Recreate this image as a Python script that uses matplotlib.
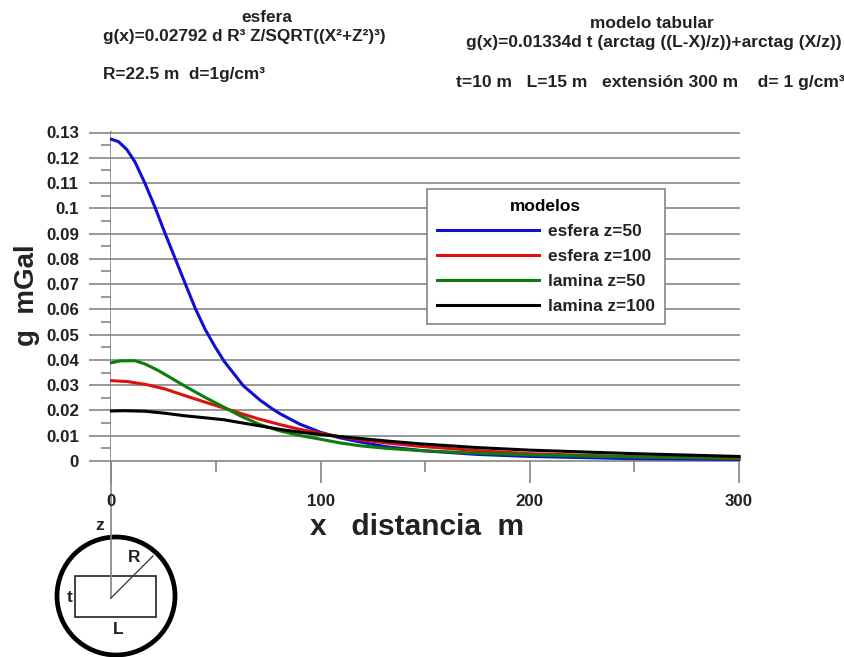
import matplotlib
matplotlib.use("Agg")
import matplotlib.pyplot as plt
from matplotlib.patches import Circle, Rectangle

plt.rcParams['font.family'] = ['Liberation Sans', 'DejaVu Sans']
plt.rcParams['font.weight'] = 'bold'

W, H = 845, 657
GREY = '#858585'
INK = '#222222'

# Values
esfera50_x = [0, 3.3, 7.3, 11.2, 16, 20.8, 25.6, 30.4, 35.2, 40, 44.7, 49.5, 54, 63, 71, 76.6, 80.6, 90, 99.8, 109, 119, 131.7, 150, 175, 200, 250, 300]
esfera50_y = [0.1273, 0.1264, 0.1233, 0.1184, 0.1099, 0.1004, 0.0901, 0.0802, 0.0703, 0.0605, 0.0522, 0.0452, 0.0393, 0.0298, 0.0241, 0.0208, 0.0187, 0.0146, 0.0114, 0.0092, 0.0075, 0.0056, 0.004, 0.0026, 0.0018, 0.0009, 0.0006]
esfera100_x = [0, 8, 17.5, 25.6, 35, 44.7, 54, 61.5, 71, 80.6, 90, 100, 109, 119, 131.7, 147.6, 175, 200, 250, 300]
esfera100_y = [0.0318, 0.0314, 0.0301, 0.0285, 0.0259, 0.0233, 0.0209, 0.0189, 0.0165, 0.0144, 0.0125, 0.011, 0.0096, 0.0084, 0.0071, 0.0058, 0.0041, 0.0029, 0.0017, 0.001]
lamina50_x = [0, 4, 11.2, 16, 22.4, 28.8, 36, 44.7, 54, 61.5, 71, 80.6, 90, 100, 109, 119, 131.7, 147.6, 175, 200, 250, 300]
lamina50_y = [0.0389, 0.0396, 0.0397, 0.0384, 0.0358, 0.0327, 0.0292, 0.0252, 0.0212, 0.0179, 0.0144, 0.0119, 0.0101, 0.0086, 0.0072, 0.006, 0.005, 0.0041, 0.0031, 0.0024, 0.0016, 0.0012]
lamina100_x = [0, 6, 16, 25.6, 35, 44.7, 54, 61.5, 71, 80.6, 90, 100, 109, 119, 131.7, 147.6, 175, 200, 250, 300]
lamina100_y = [0.0198, 0.0199, 0.0197, 0.0189, 0.0179, 0.0171, 0.0163, 0.0152, 0.0139, 0.0125, 0.0114, 0.0105, 0.0097, 0.0089, 0.0079, 0.0068, 0.0053, 0.0043, 0.0029, 0.0018]

y_ticks = [0, 0.01, 0.02, 0.03, 0.04, 0.05, 0.06, 0.07, 0.08, 0.09, 0.1, 0.11, 0.12, 0.13]
y_labels = ['0', '0.01', '0.02', '0.03', '0.04', '0.05', '0.06', '0.07', '0.08', '0.09', '0.1', '0.11', '0.12', '0.13']
y_minor = [0.005, 0.015, 0.025, 0.035, 0.045, 0.055, 0.065, 0.075, 0.085, 0.095, 0.105, 0.115, 0.125]
x_ticks = [0, 100, 200, 300]
x_minor = [50, 150, 250]

fig = plt.figure(figsize=(W / 100, H / 100), dpi=100)

# Plot area, placed to match the reference pixels
left, right, top, bottom = 111.5, 739, 132.5, 461
ax = fig.add_axes([left / W, 1 - bottom / H, (right - left) / W, (bottom - top) / H])
ax.set_xlim(0, 300)
ax.set_ylim(0, 0.13)
for s in ax.spines.values():
    s.set_visible(False)

ax.set_yticks(y_ticks, y_labels)
ax.set_yticks(y_minor, minor=True)
ax.set_xticks(x_ticks, [str(v) for v in x_ticks])
ax.set_xticks(x_minor, minor=True)
ax.grid(True, axis='y', which='major', color=GREY, linewidth=1.2)
for g in ax.get_ygridlines():
    g.set_clip_on(False)
ax.set_axisbelow(True)
ax.tick_params(axis='y', which='major', length=15.5, width=1.2, color=GREY, pad=8, labelsize=12.2, labelcolor=INK)
ax.tick_params(axis='y', which='minor', length=7.2, width=1.2, color=GREY)
ax.tick_params(axis='x', which='major', length=16, width=1.2, color=GREY, pad=8, labelsize=12.2, labelcolor=INK)
ax.tick_params(axis='x', which='minor', length=8, width=1.2, color=GREY)

ax.plot(esfera50_x, esfera50_y, color='#1010d0', linewidth=2.2, label='esfera z=50', clip_on=False)
ax.plot(esfera100_x, esfera100_y, color='#e01010', linewidth=2.2, label='esfera z=100', clip_on=False)
ax.plot(lamina50_x, lamina50_y, color='#0b7d0b', linewidth=2.2, label='lamina z=50', clip_on=False)
ax.plot(lamina100_x, lamina100_y, color='black', linewidth=2.2, label='lamina z=100', clip_on=False)

leg = ax.legend(title='modelos', loc='upper left', bbox_to_anchor=(427 / W, 1 - 189 / H),
                bbox_transform=fig.transFigure, fontsize=12.4, title_fontsize=12.4,
                handlelength=5.9, handletextpad=0.52, labelspacing=0.58, borderpad=0.58,
                borderaxespad=0, fancybox=False, framealpha=1, edgecolor=GREY, labelcolor=INK)
leg.get_frame().set_linewidth(1.2)

# Overlay in pixel coordinates for the axis stem and the sketch below the plot
ov = fig.add_axes([0, 0, 1, 1], zorder=-1)
ov.set_xlim(0, W)
ov.set_ylim(H, 0)
ov.axis('off')
ov.plot([111, 111], [132, 598], color=GREY, linewidth=1.2)
ov.plot([111, 153], [598, 556], color='#333333', linewidth=0.9)
ov.add_patch(Circle((116, 596), 59, fill=False, edgecolor='black', linewidth=3.4))
ov.add_patch(Rectangle((75, 576), 81.5, 41, fill=False, edgecolor='#222222', linewidth=1.2))
ov.text(100, 525, 'z', fontsize=12.5, ha='center', va='center', color=INK)
ov.text(134, 558, 'R', fontsize=12.5, ha='center', va='center', color=INK)
ov.text(70, 598, 't', fontsize=12.5, ha='center', va='center', color=INK)
ov.text(118, 629, 'L', fontsize=12.5, ha='center', va='center', color=INK)

# Headers and axis titles
fig.text(267 / W, 1 - 17 / H, 'esfera', fontsize=12.4, ha='center', va='center', color=INK)
fig.text(103 / W, 1 - 37 / H, 'g(x)=0.02792 d R³ Z/SQRT((X²+Z²)³)', fontsize=12.4, ha='left', va='center', color=INK)
fig.text(103 / W, 1 - 75 / H, 'R=22.5 m  d=1g/cm³', fontsize=12.4, ha='left', va='center', color=INK)
fig.text(652 / W, 1 - 23 / H, 'modelo tabular', fontsize=12.4, ha='center', va='center', color=INK)
fig.text(466 / W, 1 - 43 / H, 'g(x)=0.01334d t (arctag ((L-X)/z))+arctag (X/z))', fontsize=12.5, ha='left', va='center', color=INK)
fig.text(456 / W, 1 - 83 / H, 't=10 m   L=15 m   extensión 300 m    d= 1 g/cm³', fontsize=12.6, ha='left', va='center', color=INK)
fig.text(417 / W, 1 - 527 / H, 'x   distancia  m', fontsize=21.5, ha='center', va='center', color=INK)
fig.text(27 / W, 1 - 295 / H, 'g  mGal', fontsize=20, rotation=90, ha='center', va='center', color=INK)

fig.savefig('out.png', dpi=100)
